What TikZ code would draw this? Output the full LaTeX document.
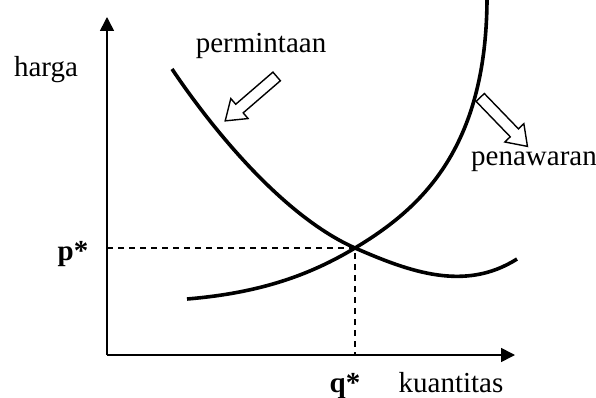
\documentclass[tikz,border=0pt]{standalone}
\usepackage{fontspec}
\setmainfont{Liberation Serif}
\usetikzlibrary{arrows.meta,shapes.arrows}
\tikzset{
  lbl/.style={anchor=base, font=\fontsize{29}{34}\selectfont},
  starlbl/.style={lbl, font=\fontsize{29}{34}\selectfont\bfseries},
  axis/.style={line width=1.6pt, -{Triangle[length=14pt,width=14pt]}},
  curve/.style={line width=3.6pt},
  guide/.style={line width=1.4pt, dash pattern=on 6pt off 5pt},
  hollow/.style={single arrow, draw, line width=1.4pt, fill=white, inner sep=5pt,
    minimum height=68pt, single arrow head extend=7.5pt, single arrow tip angle=70}
}
\begin{document}
\begin{tikzpicture}[x=1pt,y=-1pt]
\useasboundingbox (0,0) rectangle (596,398);
\coordinate (origin) at (107,355);
\coordinate (ytop) at (107,17);
\coordinate (xend) at (515,355);
\coordinate (eq) at (355,248);
\coordinate (peq) at (107,248);
\coordinate (qeq) at (355,355);
\coordinate (dstart) at (172,69);
\coordinate (dend) at (517,259);
\coordinate (sstart) at (187,299);
\coordinate (send) at (487,0);
\draw[axis] (origin)--(ytop);
\draw[axis] (origin)--(xend);
\draw[guide] (peq)--(eq)--(qeq);
\draw[curve] (dstart) .. controls (215,133) and (285,217) .. (eq)
  .. controls (410,272) and (465,292) .. (dend);
\draw[curve] (sstart) .. controls (260,293) and (310,275) .. (eq)
  .. controls (420,209) and (486,150) .. (send);
\node[lbl] (harga) at (46,77) {harga};
\node[lbl] (permintaan) at (261,53) {permintaan};
\node[lbl] (penawaran) at (534,165) {penawaran};
\node[lbl] (kuantitas) at (451,392) {kuantitas};
\node[starlbl] (pstar) at (73,260) {p*};
\node[starlbl] (qstar) at (345,392) {q*};
\node[hollow, rotate=220.8] (dshift) at (254,96) {};
\node[hollow, rotate=-46] (sshift) at (501,119) {};
\end{tikzpicture}
\end{document}
